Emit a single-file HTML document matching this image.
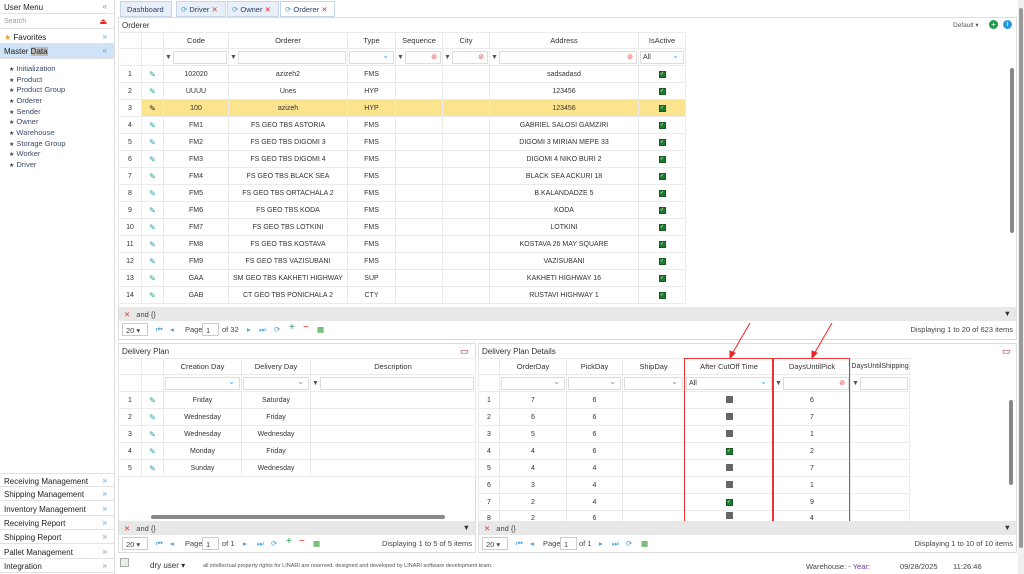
<!DOCTYPE html>
<html><head><meta charset="utf-8">
<style>
*{box-sizing:border-box;margin:0;padding:0}
body{width:1024px;height:574px;overflow:hidden;background:#fff;font-family:"Liberation Sans",Arial,sans-serif;font-size:7.5px;color:#333;position:relative}
.a{position:absolute}
.side{left:0;top:0;width:115px;height:574px;border-right:1px solid #ddd;background:#fff}
.sh{position:absolute;left:0;width:114px;height:14px;border-bottom:1px solid #e2e2e2;padding:3px 4px;font-size:8px;color:#222}
.sh .ch{position:absolute;right:7px;top:2px;color:#4aa3df;font-size:8px}
.mi{position:absolute;left:9px;font-size:7.5px;color:#3a4a6a}
.mi:before{content:"★";color:#444;font-size:6px;margin-right:2px}
.tab{position:absolute;top:1px;height:16px;border:1px solid #c5d5ea;background:#e8eff8;font-size:7.5px;color:#2a3f66;padding:3px 4px;white-space:nowrap;overflow:hidden}
.tab i{font-style:normal;color:#4aa3df}
.tab b{font-weight:normal;color:#e33}
.panel{position:absolute;border:1px solid #ddd;background:#fff}
table{border-collapse:collapse;table-layout:fixed;position:absolute}
td{border:1px solid #ebebeb;text-align:center;height:17px;font-size:7px;color:#333;white-space:nowrap;overflow:hidden}
.hd td{height:16px;font-size:7.5px;color:#333}
.fl td{height:17px;padding:1px}
.inp{display:block;height:13px;border:1px solid #ddd;background:#fff;position:relative;text-align:left;font-size:7px;padding:2px}
.dd:after{content:"⌄";position:absolute;right:4px;top:-1px;color:#4aa3df;font-size:8px}
.fi{display:flex;align-items:center;gap:1px}
.fi:before{content:"▼";color:#555;font-size:7px}
.fi .inp{flex:1}
.nx:after{content:"⊘";position:absolute;right:3px;top:1px;color:#e33;font-size:7px}
.pen{color:#1aa39a;font-size:8px}
.hl td{background:#fce38d}
.cb{display:inline-block;width:7px;height:7px;background:#1e7a2e;border:1px solid #145a20;color:#fff;font-size:5px;line-height:5px}
.cg{display:inline-block;width:7px;height:7px;background:#666}
.fbar{position:absolute;background:#e8e8e8;height:14px;font-size:7.5px;padding:3px 5px;color:#444}
.fbar b{color:#e33;font-weight:normal;margin-right:6px}
.pager{position:absolute;height:17px;font-size:7.5px;color:#444;background:#fff}
.pager span{position:absolute;top:4px}
.sel{position:absolute;top:2px;width:26px;height:13px;border:1px solid #ccc;padding:2px 3px;font-size:7.5px}
.blue{color:#4aa3df}
.ptitle{position:absolute;font-size:8px;color:#333}
</style></head><body>

<div class="a side">
<div class="sh" style="top:0">User Menu<span class="ch">«</span></div>
<div class="sh" style="top:15px;color:#999;font-size:7px">Search<span class="ch" style="color:#e22">⏏</span></div>
<div class="sh" style="top:30px"><span style="color:#f0a020">★</span> Favorites<span class="ch">»</span></div>
<div class="sh" style="top:44px;background:#cfe3f7;height:15px">Master <span style="background:#bbb">Data</span><span class="ch">«</span></div>
<div class="mi" style="top:64px">Initialization</div>
<div class="mi" style="top:75px">Product</div>
<div class="mi" style="top:85px">Product Group</div>
<div class="mi" style="top:96px">Orderer</div>
<div class="mi" style="top:107px">Sender</div>
<div class="mi" style="top:117px">Owner</div>
<div class="mi" style="top:128px">Warehouse</div>
<div class="mi" style="top:139px">Storage Group</div>
<div class="mi" style="top:149px">Worker</div>
<div class="mi" style="top:160px">Driver</div>
<div class="sh" style="top:473px;border-top:1px solid #e2e2e2">Receiving Management<span class="ch">»</span></div>
<div class="sh" style="top:487px">Shipping Management<span class="ch">»</span></div>
<div class="sh" style="top:502px">Inventory Management<span class="ch">»</span></div>
<div class="sh" style="top:516px">Receiving Report<span class="ch">»</span></div>
<div class="sh" style="top:530px">Shipping Report<span class="ch">»</span></div>
<div class="sh" style="top:545px">Pallet Management<span class="ch">»</span></div>
<div class="sh" style="top:559px">Integration<span class="ch">»</span></div>
</div>

<div class="tab" style="left:120px;width:52px;padding-left:6px">Dashboard</div>
<div class="tab" style="left:176px;width:50px"><i>⟳</i> Driver <b>✕</b></div>
<div class="tab" style="left:227px;width:52px"><i>⟳</i> Owner <b>✕</b></div>
<div class="tab" style="left:280px;width:55px;background:#fff"><i>⟳</i> Orderer <b>✕</b></div>

<div class="panel" style="left:118px;top:17px;width:899px;height:323px"></div>
<div class="ptitle" style="left:122px;top:21px">Orderer</div>
<div class="a" style="left:953px;top:21px;font-size:6.5px;color:#555">Default ▾</div>
<div class="a" style="left:989px;top:20px;width:9px;height:9px;border-radius:50%;background:#1a9a4a;color:#fff;font-size:8px;line-height:9px;text-align:center">+</div>
<div class="a" style="left:1003px;top:20px;width:9px;height:9px;border-radius:50%;background:#2a9ae0;color:#fff;font-size:7px;line-height:9px;text-align:center">i</div>
<div class="a" style="left:1010px;top:68px;width:4px;height:165px;background:#888;border-radius:2px"></div>

<table style="left:118px;top:32px;width:567px">
<colgroup><col style="width:23px"><col style="width:22px"><col style="width:65px"><col style="width:119px"><col style="width:48px"><col style="width:47px"><col style="width:47px"><col style="width:149px"><col style="width:47px"></colgroup>
<tr class="hd"><td></td><td></td><td>Code</td><td>Orderer</td><td>Type</td><td>Sequence</td><td>City</td><td>Address</td><td>IsActive</td></tr>
<tr class="fl"><td></td><td></td><td><div class="fi"><span class="inp"></span></div></td><td><div class="fi"><span class="inp"></span></div></td><td><span class="inp dd"></span></td><td><div class="fi"><span class="inp nx"></span></div></td><td><div class="fi"><span class="inp nx"></span></div></td><td><div class="fi"><span class="inp nx"></span></div></td><td><span class="inp dd">All</span></td></tr>
<tr><td>1</td><td class="pen">✎</td><td>102020</td><td>azizeh2</td><td>FMS</td><td></td><td></td><td>sadsadasd</td><td><span class="cb">✓</span></td></tr>
<tr><td>2</td><td class="pen">✎</td><td>UUUU</td><td>Unes</td><td>HYP</td><td></td><td></td><td>123456</td><td><span class="cb">✓</span></td></tr>
<tr class="hl"><td style="background:#fff">3</td><td class="pen" style="color:#223">✎</td><td>100</td><td>azizeh</td><td>HYP</td><td></td><td></td><td>123456</td><td><span class="cb">✓</span></td></tr>
<tr><td>4</td><td class="pen">✎</td><td>FM1</td><td>FS GEO TBS ASTORIA</td><td>FMS</td><td></td><td></td><td>GABRIEL SALOSI GAMZIRI</td><td><span class="cb">✓</span></td></tr>
<tr><td>5</td><td class="pen">✎</td><td>FM2</td><td>FS GEO TBS DIGOMI 3</td><td>FMS</td><td></td><td></td><td>DIGOMI 3 MIRIAN MEPE 33</td><td><span class="cb">✓</span></td></tr>
<tr><td>6</td><td class="pen">✎</td><td>FM3</td><td>FS GEO TBS DIGOMI 4</td><td>FMS</td><td></td><td></td><td>DIGOMI 4 NIKO BURI 2</td><td><span class="cb">✓</span></td></tr>
<tr><td>7</td><td class="pen">✎</td><td>FM4</td><td>FS GEO TBS BLACK SEA</td><td>FMS</td><td></td><td></td><td>BLACK SEA ACKURI 18</td><td><span class="cb">✓</span></td></tr>
<tr><td>8</td><td class="pen">✎</td><td>FM5</td><td>FS GEO TBS ORTACHALA 2</td><td>FMS</td><td></td><td></td><td>B.KALANDADZE 5</td><td><span class="cb">✓</span></td></tr>
<tr><td>9</td><td class="pen">✎</td><td>FM6</td><td>FS GEO TBS KODA</td><td>FMS</td><td></td><td></td><td>KODA</td><td><span class="cb">✓</span></td></tr>
<tr><td>10</td><td class="pen">✎</td><td>FM7</td><td>FS GEO TBS LOTKINI</td><td>FMS</td><td></td><td></td><td>LOTKINI</td><td><span class="cb">✓</span></td></tr>
<tr><td>11</td><td class="pen">✎</td><td>FM8</td><td>FS GEO TBS KOSTAVA</td><td>FMS</td><td></td><td></td><td>KOSTAVA 26 MAY SQUARE</td><td><span class="cb">✓</span></td></tr>
<tr><td>12</td><td class="pen">✎</td><td>FM9</td><td>FS GEO TBS VAZISUBANI</td><td>FMS</td><td></td><td></td><td>VAZISUBANI</td><td><span class="cb">✓</span></td></tr>
<tr><td>13</td><td class="pen">✎</td><td>GAA</td><td>SM GEO TBS KAKHETI HIGHWAY</td><td>SUP</td><td></td><td></td><td>KAKHETI HIGHWAY 16</td><td><span class="cb">✓</span></td></tr>
<tr><td>14</td><td class="pen">✎</td><td>GAB</td><td>CT GEO TBS PONICHALA 2</td><td>CTY</td><td></td><td></td><td>RUSTAVI HIGHWAY 1</td><td><span class="cb">✓</span></td></tr>
</table>
<div class="fbar" style="left:119px;top:307px;width:897px"><b>✕</b>and {}<span style="position:absolute;right:5px;top:2px;color:#333">▼</span></div>
<div class="pager" style="left:119px;top:321px;width:897px">
<div class="sel" style="left:3px">20 ▾</div>
<span class="blue" style="left:37px">⏮</span><span class="blue" style="left:51px">◂</span>
<span style="left:66px">Page</span><div class="sel" style="left:83px;width:17px">1</div><span style="left:103px">of 32</span>
<span class="blue" style="left:128px">▸</span><span class="blue" style="left:140px">⏭</span><span class="blue" style="left:155px">⟳</span>
<span style="left:170px;color:#1a9a3a;font-size:10px;top:1px">+</span><span style="left:184px;color:#e22;font-size:10px;top:1px">−</span><span style="left:198px;color:#2a9a2a">▦</span>
<span style="right:3px">Displaying 1 to 20 of 623 items</span></div>

<div class="panel" style="left:118px;top:343px;width:358px;height:210px"></div>
<div class="ptitle" style="left:122px;top:347px">Delivery Plan</div>
<div class="a" style="left:460px;top:346px;color:#a0205a;font-size:9px">▭</div>
<table style="left:118px;top:358px;width:357px">
<colgroup><col style="width:23px"><col style="width:22px"><col style="width:78px"><col style="width:69px"><col style="width:165px"></colgroup>
<tr class="hd"><td></td><td></td><td>Creation Day</td><td>Delivery Day</td><td>Description</td></tr>
<tr class="fl"><td></td><td></td><td><span class="inp dd"></span></td><td><span class="inp dd"></span></td><td><div class="fi"><span class="inp"></span></div></td></tr>
<tr><td>1</td><td class="pen">✎</td><td>Friday</td><td>Saturday</td><td></td></tr>
<tr><td>2</td><td class="pen">✎</td><td>Wednesday</td><td>Friday</td><td></td></tr>
<tr><td>3</td><td class="pen">✎</td><td>Wednesday</td><td>Wednesday</td><td></td></tr>
<tr><td>4</td><td class="pen">✎</td><td>Monday</td><td>Friday</td><td></td></tr>
<tr><td>5</td><td class="pen">✎</td><td>Sunday</td><td>Wednesday</td><td></td></tr>
</table>
<div class="a" style="left:151px;top:515px;width:294px;height:4px;background:#888;border-radius:2px"></div>
<div class="fbar" style="left:119px;top:521px;width:356px"><b>✕</b>and {}<span style="position:absolute;right:5px;top:2px;color:#333">▼</span></div>
<div class="pager" style="left:119px;top:535px;width:356px">
<div class="sel" style="left:3px">20 ▾</div>
<span class="blue" style="left:37px">⏮</span><span class="blue" style="left:51px">◂</span>
<span style="left:66px">Page</span><div class="sel" style="left:83px;width:17px">1</div><span style="left:103px">of 1</span>
<span class="blue" style="left:124px">▸</span><span class="blue" style="left:138px">⏭</span><span class="blue" style="left:152px">⟳</span>
<span style="left:167px;color:#1a9a3a;font-size:10px;top:1px">+</span><span style="left:180px;color:#e22;font-size:10px;top:1px">−</span><span style="left:194px;color:#2a9a2a">▦</span>
<span style="right:3px">Displaying 1 to 5 of 5 items</span></div>

<div class="panel" style="left:478px;top:343px;width:539px;height:210px"></div>
<div class="ptitle" style="left:482px;top:347px">Delivery Plan Details</div>
<div class="a" style="left:1002px;top:346px;color:#a0205a;font-size:9px">▭</div>
<div class="a" style="left:1009px;top:400px;width:4px;height:85px;background:#888;border-radius:2px"></div>
<table style="left:478px;top:358px;width:431px">
<colgroup><col style="width:21px"><col style="width:67px"><col style="width:56px"><col style="width:62px"><col style="width:89px"><col style="width:77px"><col style="width:59px"></colgroup>
<tr class="hd"><td></td><td>OrderDay</td><td>PickDay</td><td>ShipDay</td><td>After CutOff Time</td><td>DaysUntilPick</td><td style="font-size:7px;overflow:visible">DaysUntilShipping</td></tr>
<tr class="fl"><td></td><td><span class="inp dd"></span></td><td><span class="inp dd"></span></td><td><span class="inp dd"></span></td><td><span class="inp dd">All</span></td><td><div class="fi"><span class="inp nx"></span></div></td><td><div class="fi"><span class="inp"></span></div></td></tr>
<tr><td>1</td><td>7</td><td>6</td><td></td><td><span class="cg"></span></td><td>6</td><td></td></tr>
<tr><td>2</td><td>6</td><td>6</td><td></td><td><span class="cg"></span></td><td>7</td><td></td></tr>
<tr><td>3</td><td>5</td><td>6</td><td></td><td><span class="cg"></span></td><td>1</td><td></td></tr>
<tr><td>4</td><td>4</td><td>6</td><td></td><td><span class="cb">✓</span></td><td>2</td><td></td></tr>
<tr><td>5</td><td>4</td><td>4</td><td></td><td><span class="cg"></span></td><td>7</td><td></td></tr>
<tr><td>6</td><td>3</td><td>4</td><td></td><td><span class="cg"></span></td><td>1</td><td></td></tr>
<tr><td>7</td><td>2</td><td>4</td><td></td><td><span class="cb">✓</span></td><td>9</td><td></td></tr>
<tr style="height:12px"><td style="height:12px;vertical-align:bottom">8</td><td style="height:12px;vertical-align:bottom">2</td><td style="height:12px;vertical-align:bottom">6</td><td style="height:12px"></td><td style="height:12px"><span class="cg"></span></td><td style="height:12px;vertical-align:bottom">4</td><td style="height:12px"></td></tr>
</table>
<div class="a" style="left:684px;top:358px;width:89px;height:164px;border:1px solid #e33"></div>
<div class="a" style="left:773px;top:358px;width:77px;height:164px;border:1px solid #e33"></div>
<svg class="a" style="left:720px;top:320px" width="120" height="42"><g stroke="#e22" stroke-width="1" fill="#e22"><line x1="30" y1="3" x2="12" y2="34"/><polygon points="10,38 10,31 15,33"/><line x1="112" y1="3" x2="94" y2="34"/><polygon points="92,38 92,31 97,33"/></g></svg>
<div class="fbar" style="left:479px;top:521px;width:537px"><b>✕</b>and {}<span style="position:absolute;right:5px;top:2px;color:#333">▼</span></div>
<div class="pager" style="left:479px;top:535px;width:537px">
<div class="sel" style="left:3px">20 ▾</div>
<span class="blue" style="left:37px">⏮</span><span class="blue" style="left:51px">◂</span>
<span style="left:64px">Page</span><div class="sel" style="left:81px;width:17px">1</div><span style="left:100px">of 1</span>
<span class="blue" style="left:120px">▸</span><span class="blue" style="left:133px">⏭</span><span class="blue" style="left:147px">⟳</span>
<span style="left:162px;color:#2a9a2a">▦</span>
<span style="right:3px">Displaying 1 to 10 of 10 items</span></div>

<div class="a" style="left:1018px;top:0;width:6px;height:574px;background:#f0f0f0"></div>
<div class="a" style="left:1019px;top:8px;width:4px;height:540px;background:#999;border-radius:2px"></div>

<div class="a" style="left:120px;top:558px;width:9px;height:9px;border:1px solid #aaa;background:#e8f0e8"></div>
<div class="a" style="left:150px;top:561px;font-size:8px;color:#333">dry user ▾</div>
<div class="a" style="left:203px;top:563px;font-size:5.5px;color:#555">all intellectual property rights for LINARI are reserved. designed and developed by LINARI software development team.</div>
<div class="a" style="left:806px;top:562px;font-size:7.5px;color:#444">Warehouse: - <span style="color:#6a3aa0">Year:</span></div>
<div class="a" style="left:900px;top:562px;font-size:7.5px;color:#444">09/28/2025</div>
<div class="a" style="left:953px;top:562px;font-size:7.5px;color:#444">11:26:46</div>
</body></html>
